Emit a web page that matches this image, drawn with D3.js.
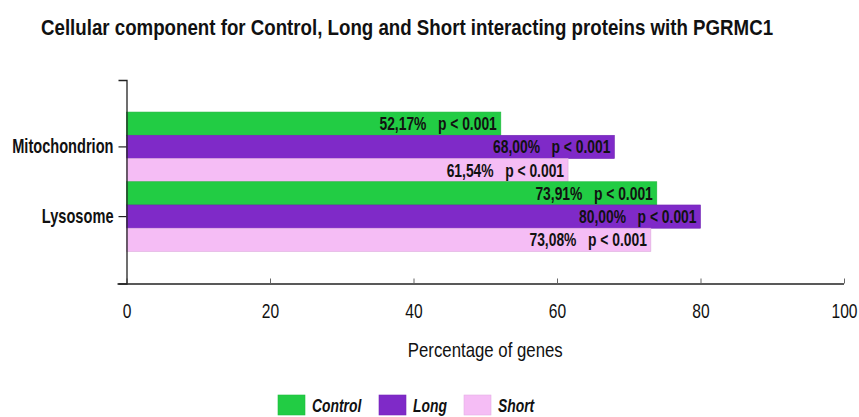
<!DOCTYPE html>
<html>
<head>
<meta charset="utf-8">
<script src="https://cdn.jsdelivr.net/npm/d3@7"></script>
<style>
  html, body { margin: 0; padding: 0; background: #fff; }
  svg { display: block; font-family: "Liberation Sans", Arial, sans-serif; }
</style>
</head>
<body>
<svg id="chart" width="859" height="417"></svg>
<script>
// Categories, series and values
const categories = ["Mitochondrion", "Lysosome"];
const seriesNames = ["Control", "Long", "Short"];
const seriesColors = ["#22cc44", "#7f2ac8", "#f5bdf5"];
const controlValues = [52.17, 73.91];
const longValues = [68.00, 80.00];
const shortValues = [61.54, 73.08];
const pLabels = ["p < 0.001", "p < 0.001", "p < 0.001", "p < 0.001", "p < 0.001", "p < 0.001"];
const xTicks = [0, 20, 40, 60, 80, 100];

const seriesValues = [controlValues, longValues, shortValues];
const rows = [];
categories.forEach((cat, ci) => {
  seriesNames.forEach((s, si) => {
    rows.push({ cat, series: s, si, value: seriesValues[si][ci], p: pLabels[ci * 3 + si] });
  });
});

const svg = d3.select("#chart");
const plot = { left: 126.5, right: 844, top: 80, bottom: 283.5 };

const x = d3.scaleLinear().domain([0, 100]).range([plot.left, plot.right]);
const y0 = d3.scaleBand().domain(categories).range([plot.top, plot.bottom]).paddingInner(0).paddingOuter(0.46);
const y1 = d3.scaleBand().domain(seriesNames).range([0, y0.bandwidth()]).padding(0);

// Condensed text: place at (tx, ty) and squeeze horizontally
function narrow(sel, tx, ty, sx) {
  return sel.attr("x", 0).attr("y", 0)
    .attr("transform", `translate(${tx},${ty}) scale(${sx},1)`);
}

// Title
narrow(svg.append("text"), 41, 35, 0.85)
  .attr("font-size", 22).attr("font-weight", "bold").attr("fill", "#111")
  .text("Cellular component for Control, Long and Short interacting proteins with PGRMC1");

// Bars
const bars = svg.append("g");
bars.selectAll("rect").data(rows).join("rect")
  .attr("x", x(0))
  .attr("y", d => y0(d.cat) + y1(d.series))
  .attr("width", d => x(d.value) - x(0))
  .attr("height", y1.bandwidth())
  .attr("fill", d => seriesColors[d.si])
  .attr("stroke", d => d3.color(seriesColors[d.si]).darker(0.3))
  .attr("stroke-width", 0.6);

// Value labels at bar ends
bars.selectAll("text").data(rows).join("text")
  .each(function (d) {
    narrow(d3.select(this), x(d.value) - 4, y0(d.cat) + y1(d.series) + y1.bandwidth() / 2 + 6.5, 0.77);
  })
  .attr("text-anchor", "end")
  .attr("font-size", 18).attr("font-weight", "bold").attr("fill", "#111")
  .style("white-space", "pre")
  .text(d => d.value.toFixed(2).replace(".", ",") + "%   " + d.p);

// X axis
const xAxis = svg.append("g")
  .attr("transform", `translate(0,${plot.bottom})`)
  .call(d3.axisBottom(x).tickValues(xTicks).tickSize(5).tickSizeOuter(0).tickPadding(9));
xAxis.select(".domain").attr("stroke", "#222").attr("stroke-width", 1.3)
  .attr("d", `M${plot.left - 9},0.5H${plot.right}`);
xAxis.selectAll(".tick line").attr("stroke", "#666").attr("y1", -5).attr("y2", 0);
xAxis.selectAll(".tick text")
  .attr("dy", null).attr("y", 34.5)
  .attr("transform", "scale(0.78,1)")
  .attr("font-size", 20).attr("fill", "#111");

// Y axis
const midOffset = y1(seriesNames[1]) + y1.bandwidth() / 2 - y0.bandwidth() / 2;
const yAxis = svg.append("g")
  .attr("transform", `translate(${plot.left},0)`)
  .call(d3.axisLeft(y0).tickSize(8).tickSizeOuter(8));
yAxis.select(".domain").attr("stroke", "#222").attr("stroke-width", 1.3);
yAxis.selectAll(".tick line").attr("stroke", "#222").attr("stroke-width", 1.2)
  .attr("transform", `translate(0,${midOffset})`);
yAxis.selectAll(".tick text").remove();

// Category labels
svg.append("g").selectAll("text").data(categories).join("text")
  .each(function (d) {
    narrow(d3.select(this), plot.left - 13, y0(d) + y0.bandwidth() / 2 + midOffset + 6.5, 0.73);
  })
  .attr("text-anchor", "end")
  .attr("font-size", 20).attr("font-weight", "bold").attr("fill", "#111")
  .text(d => d);

// X axis title
narrow(svg.append("text"), (plot.left + plot.right) / 2, 357, 0.84)
  .attr("text-anchor", "middle").attr("font-size", 20).attr("fill", "#111")
  .text("Percentage of genes");

// Legend
const legendX = [278, 379, 464];
const legend = svg.append("g");
seriesNames.forEach((s, i) => {
  legend.append("rect")
    .attr("x", legendX[i]).attr("y", 395).attr("width", 27).attr("height", 20)
    .attr("fill", seriesColors[i])
    .attr("stroke", d3.color(seriesColors[i]).darker(0.2)).attr("stroke-width", 0.6);
  narrow(legend.append("text"), legendX[i] + 34, 412, 0.73)
    .attr("font-size", 19).attr("font-weight", "bold").attr("font-style", "italic").attr("fill", "#111")
    .text(s);
});
</script>
</body>
</html>
